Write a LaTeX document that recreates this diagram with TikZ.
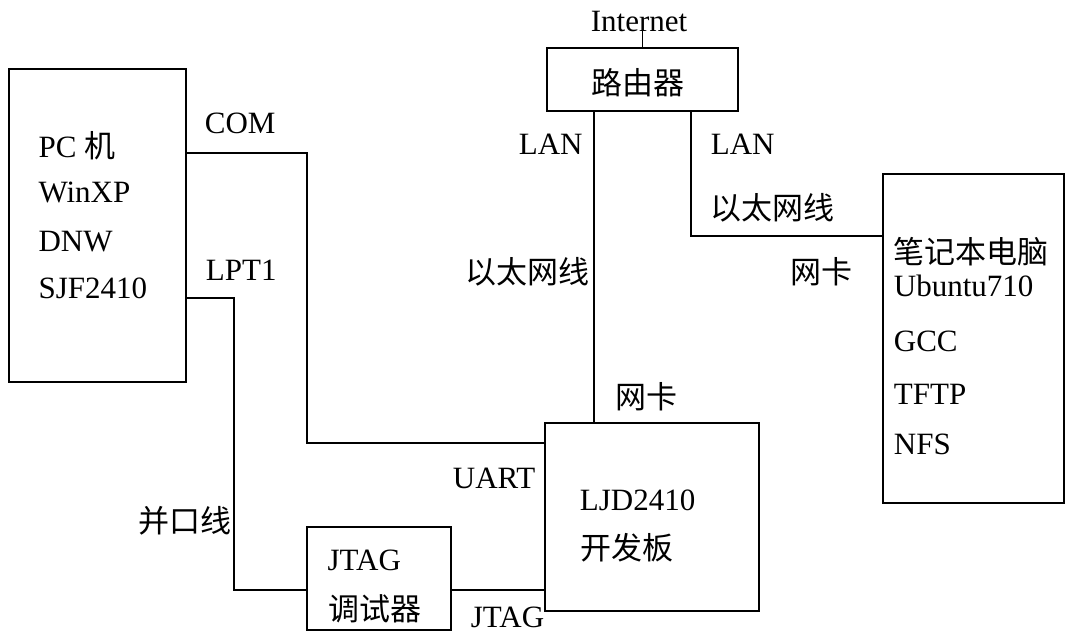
\documentclass[tikz,border=0pt]{standalone}
\usepackage{fontspec}
\setmainfont{Liberation Serif}
\newfontfamily\cjk{Noto Sans CJK SC}
\begin{document}
\begin{tikzpicture}[x=1pt,y=-1pt,
  font=\fontsize{31}{37}\selectfont,
  line width=1.8pt,
  box/.style={draw, line width=1.8pt, inner sep=0pt, rectangle},
  lbl/.style={inner sep=0pt, anchor=base west},
  clbl/.style={inner sep=0pt, anchor=base west, font=\fontsize{31}{37}\selectfont\cjk}]
\useasboundingbox (0,0) rectangle (1069,636);

% boxes
\node[box, minimum width=177pt, minimum height=313pt] (pc) at (97.5,225.5) {};
\node[box, minimum width=191pt, minimum height=63pt] (router) at (642.5,79.5) {};
\node[box, minimum width=181pt, minimum height=329pt] (laptop) at (973.5,338.5) {};
\node[box, minimum width=214pt, minimum height=188pt] (board) at (652,517) {};
\node[box, minimum width=144pt, minimum height=103pt] (jtag) at (378.8,578.5) {};

% texts
\node[inner sep=0pt, anchor=base] (inet) at (639,31.7) {Internet};
\node[clbl] (trouter) at (591,95) {路由器};

\node[lbl] (tpc) at (37.7,158) {PC {\cjk 机}};
\node[lbl] (twin) at (37.7,203) {WinXP};
\node[lbl] (tdnw) at (37.7,252) {DNW};
\node[lbl] (tsjf) at (37.7,299) {SJF2410};

\node[lbl] (tcom) at (204,134) {COM};
\node[lbl] (tlpt) at (205,280.7) {LPT1};
\node[clbl] (tbk) at (138,532) {并口线};

\node[lbl] (tlan1) at (518,155) {LAN};
\node[clbl] (teth1) at (465,283.5) {以太网线};
\node[clbl] (tnic1) at (615,409) {网卡};
\node[lbl] (tuart) at (452,488) {UART};

\node[lbl] (tjt1) at (326.7,570.7) {JTAG};
\node[clbl] (tjt2) at (328,620) {调试器};
\node[lbl] (tjt3) at (470,627.5) {JTAG};

\node[lbl] (tljd) at (579,510) {LJD2410};
\node[clbl] (tkfb) at (580,559) {开发板};

\node[lbl] (tlan2) at (710,155) {LAN};
\node[clbl] (teth2) at (710,220) {以太网线};
\node[clbl] (tnic2) at (790,284) {网卡};

\node[clbl] (tnb) at (893,264) {笔记本电脑};
\node[lbl] (tubu) at (893,297) {Ubuntu710};
\node[lbl] (tgcc) at (893,352) {GCC};
\node[lbl] (ttftp) at (893,405) {TFTP};
\node[lbl] (tnfs) at (893,454) {NFS};

% connectors
\coordinate (c1) at (306.7,152.7);
\coordinate (c2) at (306.7,443.3);
\draw (pc.east |- c1) -- (c1) -- (c2) -- (board.west |- c2);

\coordinate (l1) at (234.3,298.3);
\coordinate (l2) at (234.3,590);
\draw (pc.east |- l1) -- (l1) -- (l2) -- (jtag.west |- l2);
\draw (jtag.east |- l2) -- (board.west |- l2);

\coordinate (n1) at (594.3,300);
\draw (router.south -| n1) -- (board.north -| n1);

\coordinate (n2) at (691,235.7);
\draw (router.south -| n2) -- (n2) -- (laptop.west |- n2);

\coordinate (i1) at (642.5,29);
\draw (router.north) -- (router.north |- i1);
\end{tikzpicture}
\end{document}
